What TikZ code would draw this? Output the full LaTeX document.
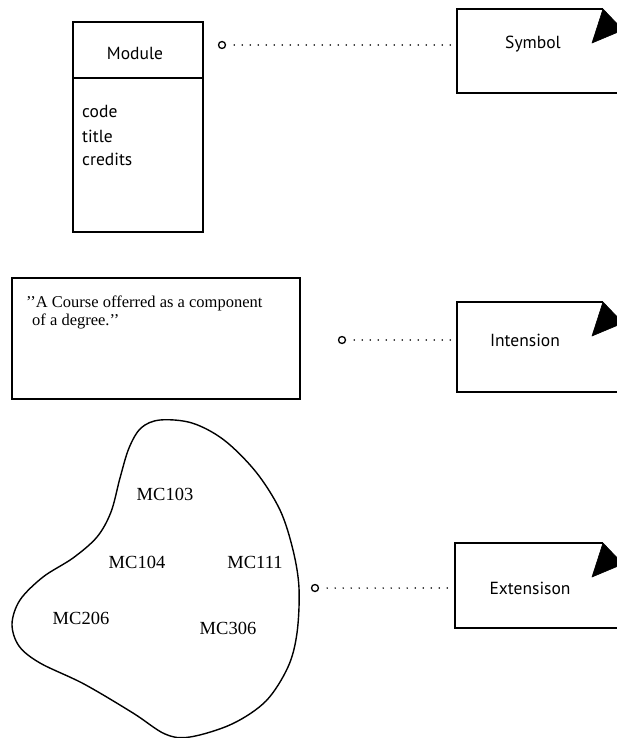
\documentclass[tikz,border=0pt]{standalone}
\usepackage{fontspec}
\setmainfont{Liberation Serif}
\newfontfamily\labelfont{PT Sans}
\begin{document}
\begin{tikzpicture}[x=1pt,y=-1pt,
  outline/.style={draw=black,line width=1.4pt},
  sanslabel/.style={font=\labelfont\fontsize{17.5}{20}\selectfont,inner sep=0pt},
  seriflabel/.style={font=\fontsize{18.5}{21}\selectfont,inner sep=0pt},
  quotelabel/.style={font=\fontsize{16.5}{19}\selectfont,inner sep=0pt},
  port/.style={circle,draw=black,line width=1.3pt,minimum size=7pt,inner sep=0pt},
  dotline/.style={line width=1.7pt,line cap=round,dash pattern=on 0pt off 8pt},
  fold/.style={fill=black,draw=black,line width=0.6pt,line join=round}]
\useasboundingbox (0,0) rectangle (617,738);
\clip (0,0) rectangle (617,738);

% class box: Module
\draw[outline] (73,22) rectangle (203,232);
\draw[outline] (73,78) -- (203,78);
\node[sanslabel] (module) at (135,53) {Module};
\node[sanslabel,anchor=west] (code) at (82,111) {code};
\node[sanslabel,anchor=west] (title) at (82,136) {title};
\node[sanslabel,anchor=west] (credits) at (82,159) {credits};

% definition box
\draw[outline] (12,278) rectangle (300,399);
\node[quotelabel,anchor=west] (def1) at (26,303) {’’A Course offerred as a component};
\node[quotelabel,anchor=west] (def2) at (32,321) {of a degree.’’};

% extension set
\draw[outline,line join=round] plot[smooth cycle,tension=0.55] coordinates {
  (160,420) (192,423) (224,440) (256,472) (280,510) (293,550)
  (299,588) (297,633) (288,667) (266,701) (232,724) (190,737)
  (165,734) (133,713) (84,684) (40,663) (19,646) (12,624)
  (20,600) (43,577) (73,558) (97,537) (111,512) (120,478) (129,448) (141,428)};
\node[seriflabel] (mc103) at (165,494) {MC103};
\node[seriflabel] (mc104) at (137,562) {MC104};
\node[seriflabel] (mc111) at (255,562) {MC111};
\node[seriflabel] (mc206) at (81,618) {MC206};
\node[seriflabel] (mc306) at (228,628) {MC306};

% note cards
\draw[outline] (640,93) -- (457,93) -- (457,9) -- (603,9);
\draw[fold] (603,9) -- (623,30) -- (592,43) -- cycle;
\node[sanslabel] (symbol) at (533,44) {Symbol};
\coordinate (symL) at (457,45);

\draw[outline] (640,392) -- (457,392) -- (457,302) -- (603,302);
\draw[fold] (603,302) -- (623,323) -- (592,336) -- cycle;
\node[sanslabel] (intension) at (525,340) {Intension};
\coordinate (intL) at (457,340);

\draw[outline] (640,628) -- (455,628) -- (455,543) -- (603,543);
\draw[fold] (603,543) -- (623,564) -- (592,577) -- cycle;
\node[sanslabel] (extension) at (530,588) {Extensison};
\coordinate (extL) at (455,588);

% links
\node[port] (p1) at (222,45) {};
\node[port] (p2) at (342,340) {};
\node[port] (p3) at (315,588) {};
\draw[dotline] (p1.east) ++(8,0) -- (symL);
\draw[dotline] (p2.east) ++(8,0) -- (intL);
\draw[dotline] (p3.east) ++(8,0) -- (extL);
\end{tikzpicture}
\end{document}
